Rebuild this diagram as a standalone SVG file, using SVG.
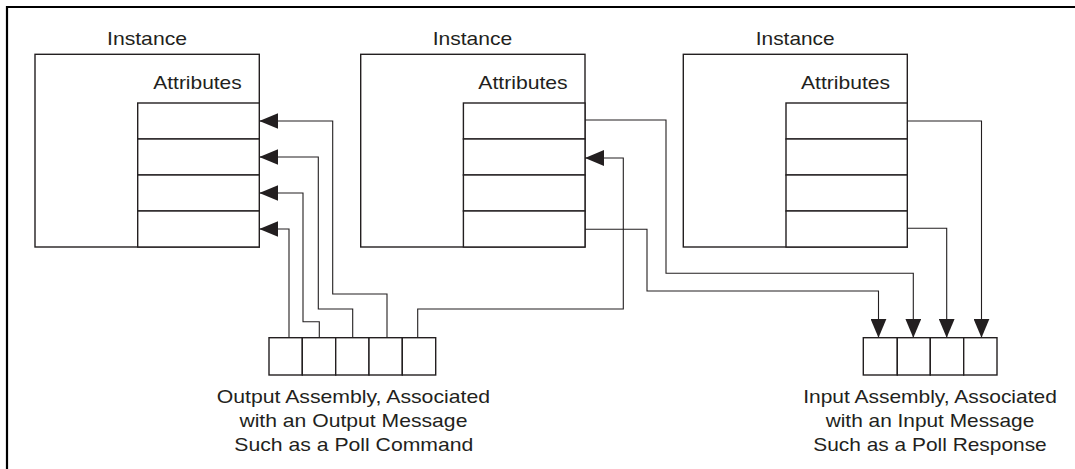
<svg xmlns="http://www.w3.org/2000/svg" width="1075" height="469" viewBox="0 0 1075 469">
<style>
.frame{fill:none;stroke:#000;stroke-width:2.2}
.box{fill:#fff;stroke:#231f20;stroke-width:1.4}
.cell{fill:#fff;stroke:#231f20;stroke-width:1.4}
.conn{fill:none;stroke:#231f20;stroke-width:1.1}
.arr{marker-end:url(#ah)}
text{font-family:"Liberation Sans",Arial,Helvetica,sans-serif;font-size:19px;fill:#231f20}
.c{text-anchor:middle}
</style>
<defs>
<marker id="ah" markerUnits="userSpaceOnUse" markerWidth="20" markerHeight="16" refX="19" refY="8" orient="auto">
<path d="M0,0 L19,8 L0,16 z" fill="#231f20"/>
</marker>
</defs>
<path class="frame" d="M7,469 L7,7 L1075,7"/>

<g id="instance1">
<text class="c" x="147" y="45" textLength="80" lengthAdjust="spacingAndGlyphs">Instance</text>
<rect class="box" x="35" y="54.3" width="224.3" height="192.7"/>
<text class="c" x="197.5" y="89.3" textLength="88.4" lengthAdjust="spacingAndGlyphs">Attributes</text>
<rect class="cell" x="137.7" y="103" width="121.6" height="36"/>
<rect class="cell" x="137.7" y="139" width="121.6" height="36"/>
<rect class="cell" x="137.7" y="175" width="121.6" height="36"/>
<rect class="cell" x="137.7" y="211" width="121.6" height="36"/>
</g>

<g id="instance2">
<text class="c" x="472.5" y="45" textLength="79.6" lengthAdjust="spacingAndGlyphs">Instance</text>
<rect class="box" x="360.7" y="54.3" width="224.3" height="192.7"/>
<text class="c" x="523" y="89.3" textLength="89.4" lengthAdjust="spacingAndGlyphs">Attributes</text>
<rect class="cell" x="463.4" y="103" width="121.6" height="36"/>
<rect class="cell" x="463.4" y="139" width="121.6" height="36"/>
<rect class="cell" x="463.4" y="175" width="121.6" height="36"/>
<rect class="cell" x="463.4" y="211" width="121.6" height="36"/>
</g>

<g id="instance3">
<text class="c" x="795.2" y="45" textLength="78.8" lengthAdjust="spacingAndGlyphs">Instance</text>
<rect class="box" x="683.3" y="54.3" width="224" height="192.7"/>
<text class="c" x="845.5" y="89.3" textLength="89" lengthAdjust="spacingAndGlyphs">Attributes</text>
<rect class="cell" x="786" y="103" width="121.3" height="36"/>
<rect class="cell" x="786" y="139" width="121.3" height="36"/>
<rect class="cell" x="786" y="175" width="121.3" height="36"/>
<rect class="cell" x="786" y="211" width="121.3" height="36"/>
</g>

<g id="output-assembly">
<rect class="cell" x="269" y="337.7" width="33.3" height="37.3"/>
<rect class="cell" x="302.3" y="337.7" width="33.4" height="37.3"/>
<rect class="cell" x="335.7" y="337.7" width="33.3" height="37.3"/>
<rect class="cell" x="369" y="337.7" width="33.3" height="37.3"/>
<rect class="cell" x="402.3" y="337.7" width="33.4" height="37.3"/>
<text class="c" x="353.4" y="403.3" textLength="273.3" lengthAdjust="spacingAndGlyphs">Output Assembly, Associated</text>
<text class="c" x="353.4" y="427" textLength="228" lengthAdjust="spacingAndGlyphs">with an Output Message</text>
<text class="c" x="353.8" y="451" textLength="239" lengthAdjust="spacingAndGlyphs">Such as a Poll Command</text>
</g>

<g id="input-assembly">
<rect class="cell" x="863.3" y="337.7" width="34" height="37.3"/>
<rect class="cell" x="897.3" y="337.7" width="33" height="37.3"/>
<rect class="cell" x="930.3" y="337.7" width="33.4" height="37.3"/>
<rect class="cell" x="963.7" y="337.7" width="33.3" height="37.3"/>
<text class="c" x="930" y="403.3" textLength="253.7" lengthAdjust="spacingAndGlyphs">Input Assembly, Associated</text>
<text class="c" x="930" y="427" textLength="208.6" lengthAdjust="spacingAndGlyphs">with an Input Message</text>
<text class="c" x="930" y="451" textLength="233.4" lengthAdjust="spacingAndGlyphs">Such as a Poll Response</text>
</g>

<g id="connectors">
<path class="conn arr" d="M289,337.7 L289,229 L259.3,229"/>
<path class="conn arr" d="M319.3,337.7 L319.3,321.7 L303,321.7 L303,193 L259.3,193"/>
<path class="conn arr" d="M352.7,337.7 L352.7,309 L318.3,309 L318.3,157 L259.3,157"/>
<path class="conn arr" d="M387,337.7 L387,294 L332.7,294 L332.7,121 L259.3,121"/>
<path class="conn arr" d="M417.7,337.7 L417.7,309 L623.3,309 L623.3,158 L585,158"/>
<path class="conn arr" d="M585,229.3 L647,229.3 L647,291 L878.5,291 L878.5,337.7"/>
<path class="conn arr" d="M585,120 L666,120 L666,273.3 L913.3,273.3 L913.3,337.7"/>
<path class="conn arr" d="M907.3,228.3 L946.7,228.3 L946.7,337.7"/>
<path class="conn arr" d="M907.3,121 L981.5,121 L981.5,337.7"/>
</g>
</svg>
